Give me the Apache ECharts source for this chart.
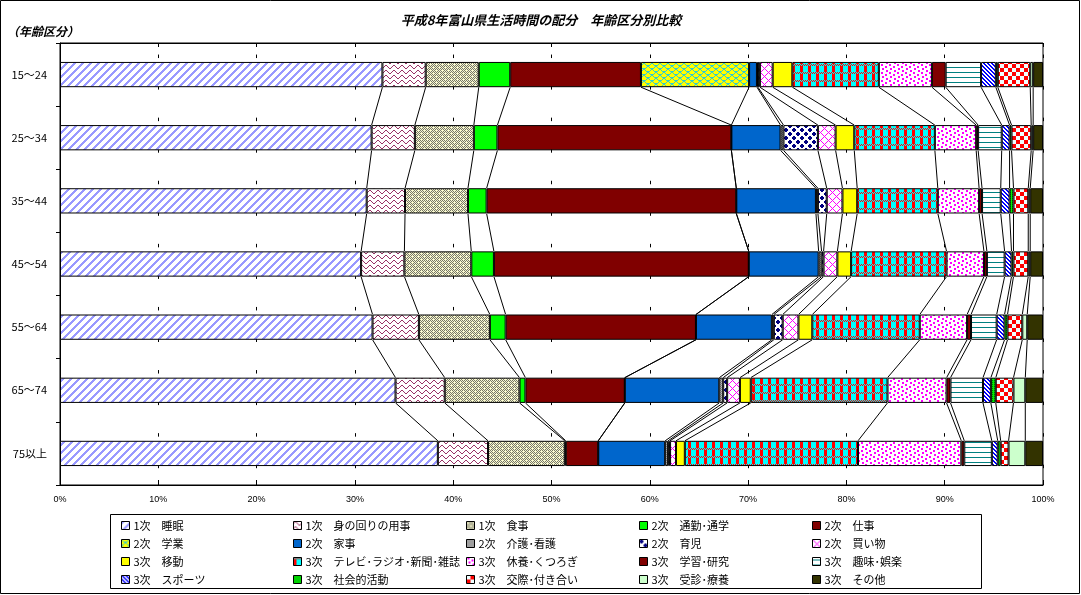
<!DOCTYPE html>
<html><head><meta charset="utf-8">
<script src="https://cdn.jsdelivr.net/npm/echarts@6/dist/echarts.min.js"></script>
<style>html,body{margin:0;padding:0;background:#fff}#c{width:1081px;height:595px}</style>
</head><body><div id="c"></div><script>
// ---- data (percent of the day) ----
const categories = ['15〜24','25〜34','35〜44','45〜54','55〜64','65〜74','75以上'];
const seriesNames = [
  '1次　睡眠','1次　身の回りの用事','1次　食事','2次　通勤･通学','2次　仕事',
  '2次　学業','2次　家事','2次　介護･看護','2次　育児','2次　買い物',
  '3次　移動','3次　テレビ･ラジオ･新聞･雑誌','3次　休養･くつろぎ','3次　学習･研究','3次　趣味･娯楽',
  '3次　スポーツ','3次　社会的活動','3次　交際･付き合い','3次　受診･療養','3次　その他'
];
const sleep     = [32.8, 31.7, 31.2, 30.6, 31.7, 34.1, 38.4];
const personal  = [4.4, 4.4, 3.9, 4.4, 4.7, 5.0, 5.1];
const meals     = [5.4, 6.0, 6.4, 6.8, 7.2, 7.6, 7.8];
const commute   = [3.2, 2.4, 1.9, 2.3, 1.6, 0.6, 0.1];
const work      = [13.3, 23.8, 25.4, 25.9, 19.3, 10.1, 3.3];
const school    = [11.0, 0, 0, 0, 0, 0, 0];
const housework = [0.8, 5.0, 8.1, 7.1, 7.7, 9.6, 6.8];
const care      = [0.1, 0.3, 0.2, 0.3, 0.2, 0.4, 0.3];
const childcare = [0.2, 3.5, 0.9, 0.2, 0.9, 0.4, 0.2];
const shopping  = [1.3, 1.8, 1.6, 1.4, 1.6, 1.3, 0.6];
const travel    = [2.0, 1.9, 1.5, 1.4, 1.4, 1.1, 0.9];
const media     = [8.8, 8.2, 8.2, 9.7, 10.9, 13.9, 17.6];
const rest      = [5.4, 4.2, 4.2, 3.8, 4.8, 6.0, 10.5];
const study     = [1.4, 0.2, 0.3, 0.3, 0.4, 0.4, 0.3];
const hobby     = [3.6, 2.4, 1.9, 1.8, 2.6, 3.3, 2.8];
const sports    = [1.5, 0.8, 0.9, 0.7, 0.8, 0.8, 0.6];
const social    = [0.2, 0.2, 0.4, 0.2, 0.3, 0.5, 0.3];
const company   = [3.3, 2.0, 1.5, 1.5, 1.5, 1.8, 0.8];
const medical   = [0.3, 0.2, 0.2, 0.2, 0.5, 1.2, 1.7];
const other     = [1.0, 1.0, 1.3, 1.3, 1.6, 1.8, 1.8];
const seriesValues = [sleep, personal, meals, commute, work, school, housework, care, childcare, shopping,
  travel, media, rest, study, hobby, sports, social, company, medical, other];
const legendColumns = [
  [0, 5, 10, 15], [1, 6, 11, 16], [2, 7, 12, 17], [3, 8, 13, 18], [4, 9, 14, 19]
];

// ---- 100% stacking (each age group normalised to 100) ----
const rowTotals = categories.map((_, i) => seriesValues.reduce((s, a) => s + a[i], 0));
const pct = seriesValues.map(a => a.map((v, i) => v / rowTotals[i] * 100));
const cum = categories.map((_, i) => { let s = 0; return pct.map(a => (s += a[i])); });

// ---- fill patterns ----
function pat(w, h, fn) {
  const c = document.createElement('canvas'); c.width = w; c.height = h;
  const g = c.getContext('2d'); fn(g, w, h); return { image: c, repeat: 'repeat' };
}
function px(g, x, y, col) { g.fillStyle = col; g.fillRect(x, y, 1, 1); }
function bg(g, w, h, col) { g.fillStyle = col; g.fillRect(0, 0, w, h); }
const fills = [
  pat(8, 8, (g) => { bg(g, 8, 8, '#fff'); for (let y = 0; y < 8; y++) for (let x = 0; x < 8; x++) if ((x + y) % 8 < 3) px(g, x, y, '#9999FF'); }),
  pat(8, 5, (g) => { bg(g, 8, 5, '#fff'); const ys = [1, 0, 0, 1, 2, 3, 3, 2]; for (let x = 0; x < 8; x++) px(g, x, ys[x], '#993366'); }),
  pat(6, 6, (g) => { for (let y = 0; y < 6; y++) for (let x = 0; x < 6; x++) px(g, x, y, (x + y) % 2 ? '#F4F4D8' : '#7A7A60'); px(g, 1, 1, '#FFFFC0'); px(g, 4, 4, '#FFFFC0'); }),
  '#00FF00',
  '#800000',
  pat(8, 6, (g) => { bg(g, 8, 6, '#FFFF00'); const ys = [0, 1, 2, 2, 2, 2, 1, 0]; for (let x = 0; x < 8; x++) { px(g, x, ys[x], '#33CCCC'); px(g, (x + 4) % 8, ys[x] + 3, '#33CCCC'); } }),
  '#0066CC',
  pat(2, 2, (g) => { bg(g, 2, 2, '#C0C0C0'); px(g, 0, 0, '#808080'); px(g, 1, 1, '#808080'); }),
  pat(8, 8, (g) => { bg(g, 8, 8, '#fff'); const cs = [[2, 2], [6, 6]]; for (let y = 0; y < 8; y++) for (let x = 0; x < 8; x++) { for (const c of cs) { for (const dx of [-8, 0, 8]) for (const dy of [-8, 0, 8]) { const d = Math.hypot(x + 0.5 - c[0] - dx, y + 0.5 - c[1] - dy); if (d < 2.1) px(g, x, y, '#000080'); } } } }),
  pat(8, 8, (g) => { bg(g, 8, 8, '#fff'); for (let y = 0; y < 8; y++) for (let x = 0; x < 8; x++) if ((x + y) % 8 === 0 || (x - y + 8) % 8 === 0) px(g, x, y, '#FF00FF'); }),
  '#FFFF00',
  pat(8, 8, (g) => { for (let y = 0; y < 8; y++) for (let x = 0; x < 8; x++) { let col; if (y < 2) col = (x + y) % 2 ? '#FF0000' : '#00FFFF'; else col = x < 3 ? '#FF0000' : '#00FFFF'; px(g, x, y, col); } }),
  pat(8, 8, (g) => { bg(g, 8, 8, '#fff'); g.fillStyle = '#FF00FF'; [[1, 0], [5, 2], [2, 4], [6, 6]].forEach(p => g.fillRect(p[0], p[1], 2, 2)); }),
  '#800000',
  pat(4, 5, (g) => { bg(g, 4, 5, '#fff'); g.fillStyle = '#008080'; g.fillRect(0, 2, 4, 1); }),
  pat(4, 4, (g) => { bg(g, 4, 4, '#fff'); for (let y = 0; y < 4; y++) for (let x = 0; x < 4; x++) if ((x - y + 4) % 4 < 2) px(g, x, y, '#0000FF'); }),
  pat(2, 2, (g) => { bg(g, 2, 2, '#00EE00'); px(g, 0, 0, '#008000'); }),
  pat(8, 8, (g) => { for (let y = 0; y < 8; y++) for (let x = 0; x < 8; x++) px(g, x, y, ((x >> 2) + (y >> 2)) % 2 ? '#FF0000' : '#EFFFFF'); }),
  '#CCFFCC',
  '#333300'
];

const BAR_RATIO = 0.4;
const barSeries = seriesNames.map((name, k) => ({
  type: 'bar', name, stack: 'total', data: pct[k], barWidth: (BAR_RATIO * 100) + '%',
  itemStyle: { color: fills[k], borderColor: '#000', borderWidth: 1 },
  emphasis: { disabled: true }, silent: true
}));

// Excel-style series lines between adjacent bars
const linkData = [];
for (let i = 0; i < categories.length - 1; i++) for (let k = 0; k < seriesNames.length - 1; k++) linkData.push([i, k]);
const linkSeries = {
  type: 'custom', name: 'links', data: linkData, encode: { x: 1, y: 0 }, silent: true, z: 5,
  renderItem(params, api) {
    const i = api.value(0), k = api.value(1);
    const a = api.coord([cum[i][k], i]);
    const b = api.coord([cum[i + 1][k], i + 1]);
    const half = api.size([0, 1])[1] * BAR_RATIO / 2;
    return { type: 'line', shape: { x1: a[0], y1: a[1] + half, x2: b[0], y2: b[1] - half },
      style: { stroke: '#000', lineWidth: 1 } };
  }
};

const FONT = '"Noto Sans CJK JP", sans-serif';
const legendX = [116, 288, 461, 634, 807];
const legends = legendColumns.map((col, c) => ({
  orient: 'vertical', left: legendX[c], top: 514, itemWidth: 8, itemHeight: 8, itemGap: 5,
  icon: 'rect', selectedMode: false,
  itemStyle: { borderColor: '#000', borderWidth: 1 },
  textStyle: { fontFamily: FONT, fontSize: 11, lineHeight: 13, color: '#000', padding: [0, 0, 0, -1] },
  data: col.map(k => seriesNames[k])
}));

const chart = echarts.init(document.getElementById('c'), null, { renderer: 'canvas' });
chart.setOption({
  animation: false,
  backgroundColor: '#fff',
  grid: { left: 60, right: 38, top: 43, bottom: 110, show: true, borderColor: '#000', borderWidth: 1 },
  xAxis: [{
    type: 'value', min: 0, max: 100, interval: 10, position: 'bottom',
    axisLine: { show: true, lineStyle: { color: '#000' } },
    axisTick: { show: true, inside: true, length: 5, lineStyle: { color: '#000' } },
    axisLabel: { formatter: '{value}%', fontSize: 9, fontFamily: 'Liberation Sans, sans-serif', color: '#000', margin: 10 },
    splitLine: { show: true, lineStyle: { color: '#000', width: 1, type: [3.5, 28.05], dashOffset: 20 } }
  }, {
    type: 'value', min: 0, max: 100, interval: 10, position: 'top',
    axisLine: { show: true, lineStyle: { color: '#000' } },
    axisTick: { show: true, inside: true, length: 4, lineStyle: { color: '#000' } },
    axisLabel: { show: false }, splitLine: { show: false }
  }],
  yAxis: {
    type: 'category', data: categories, inverse: true,
    axisLine: { show: true, lineStyle: { color: '#000' } },
    axisTick: { show: true, length: 4, lineStyle: { color: '#000' } },
    axisLabel: { fontSize: 11, fontFamily: FONT, color: '#000', margin: 13 }
  },
  legend: legends,
  graphic: [
    { type: 'rect', shape: { x: 0.5, y: 0.5, width: 1079, height: 593 }, style: { fill: 'none', stroke: '#000', lineWidth: 1 }, silent: true },
    { type: 'rect', shape: { x: 110.5, y: 514.5, width: 871, height: 74 }, style: { fill: 'none', stroke: '#000', lineWidth: 1 }, silent: true, z: -1 },
    { type: 'text', x: 541, y: 20, style: { text: '平成8年富山県生活時間の配分　年齢区分別比較', font: 'italic bold 13px ' + FONT, fill: '#000', textAlign: 'center', textVerticalAlign: 'middle' } },
    { type: 'text', x: 7, y: 31, style: { text: '（年齢区分）', font: 'italic bold 12px ' + FONT, fill: '#000', textAlign: 'left', textVerticalAlign: 'middle' } }
  ],
  series: barSeries.concat([linkSeries])
});
</script></body></html>
